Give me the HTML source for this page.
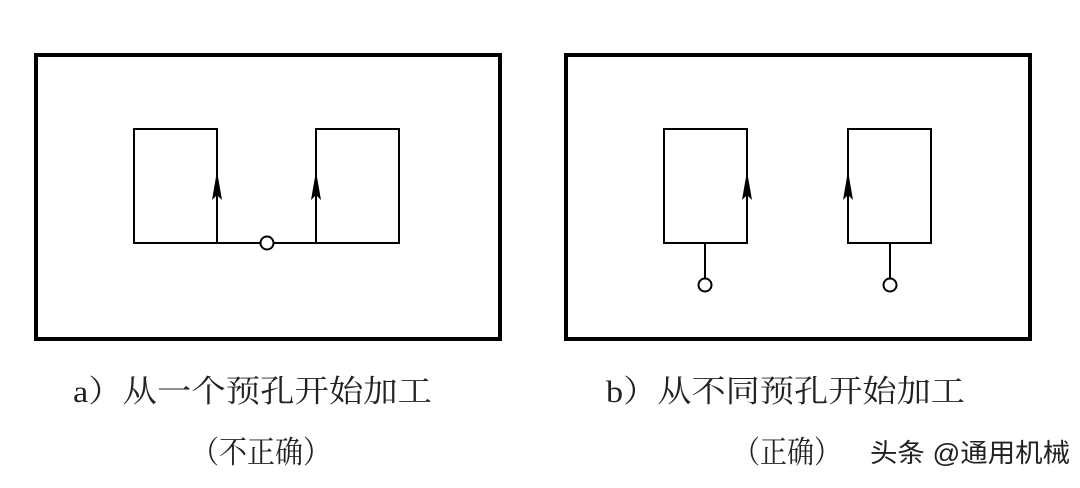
<!DOCTYPE html>
<html><head><meta charset="utf-8"><style>
html,body{margin:0;padding:0;background:#fff;width:1080px;height:488px;overflow:hidden}
svg{display:block}
.t{font-family:"Liberation Serif","Noto Serif CJK SC",serif;font-size:31px;fill:#222}
.w{font-family:"Liberation Sans","Noto Sans CJK SC",sans-serif;font-size:26px;fill:#222}
</style></head><body>
<svg width="1080" height="488" viewBox="0 0 1080 488">
<g fill="none" stroke="#000">
<rect x="36" y="55" width="464" height="284" stroke-width="4"/>
<rect x="566" y="55" width="464" height="284" stroke-width="4"/>
<g stroke-width="2">
<rect x="134" y="129" width="83" height="114"/>
<rect x="316" y="129" width="83" height="114"/>
<line x1="217" y1="243" x2="261" y2="243"/>
<line x1="273" y1="243" x2="316" y2="243"/>
<rect x="664" y="129" width="83" height="114"/>
<rect x="848" y="129" width="83" height="114"/>
<line x1="705" y1="243" x2="705" y2="278"/>
<line x1="890" y1="243" x2="890" y2="278"/>
<circle cx="267" cy="243" r="6.5" fill="#fff"/>
<circle cx="705" cy="285" r="6.5" fill="#fff"/>
<circle cx="890" cy="285" r="6.5" fill="#fff"/>
</g></g>
<g fill="#000">
<path d="M217 171 L222 200 L217 195 L212 200Z"/>
<path d="M316 171 L321 200 L316 195 L311 200Z"/>
<path d="M747 171 L752 200 L747 195 L742 200Z"/>
<path d="M848 171 L853 200 L848 195 L843 200Z"/>
</g>
<text class="t" x="73" y="402" textLength="359" lengthAdjust="spacingAndGlyphs">a）从一个预孔开始加工</text>
<text class="t" x="191" y="463" textLength="140" lengthAdjust="spacingAndGlyphs">（不正确）</text>
<text class="t" x="606" y="402" textLength="359" lengthAdjust="spacingAndGlyphs">b）从不同预孔开始加工</text>
<text class="t" x="733" y="463" textLength="108" lengthAdjust="spacingAndGlyphs">（正确）</text>
<text class="w" x="870" y="462" textLength="200" lengthAdjust="spacingAndGlyphs">头条 @通用机械</text>
</svg>
</body></html>
